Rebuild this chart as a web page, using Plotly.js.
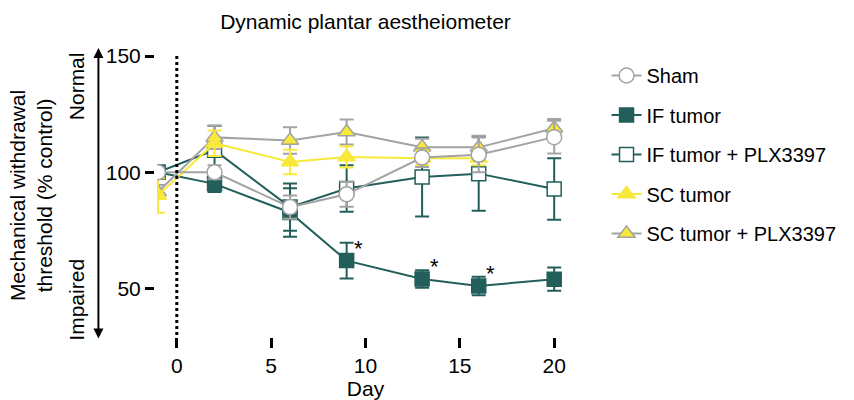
<!DOCTYPE html>
<html>
<head>
<meta charset="utf-8">
<script src="https://cdn.plot.ly/plotly-3.0.1.min.js"></script>
<style>html,body{margin:0;padding:0;background:#fff;}#chart{width:854px;height:400px;}</style>
</head>
<body>
<div id="chart"></div>
<script>
// ---- data ----
const days = [-1, 2, 6, 9, 13, 16, 20];
const daysSC = [-1, 2, 6, 9, 13, 16];
const sham = [100, 100, 85, 90.5, 106.3, 107.5, 115.1];
const shamErr = [0, 3, 5, 5.3, 4, 7.5, 7];
const ifTumor = [100, 95, 82.7, 62, 54.1, 51.1, 54];
const ifTumorErr = [0, 3.5, 10.4, 7.7, 3.8, 4, 5];
const ifPlx = [100, 109.5, 85, 93, 98, 99.4, 92.8];
const ifPlxErr = [0, 10.5, 10.2, 10, 17, 16, 13.2];
const scTumor = [90, 112.5, 104.4, 106.6, 106, 106];
const scTumorErr = [7.4, 5.5, 5.3, 4.6, 3, 3];
const scPlx = [91.5, 115, 113.7, 117.3, 110.8, 110.7, 118.9];
const scPlxErr = [3, 5, 5.7, 5.4, 3.6, 5, 4];
const sigDays = [9, 13, 16];
const seriesNames = ['Sham', 'IF tumor', 'IF tumor + PLX3397', 'SC tumor', 'SC tumor + PLX3397'];
const xTicks = [0, 5, 10, 15, 20];
const yTicks = [50, 100, 150];

const TEAL = '#225f5b', GREY = '#a3a3a3', YEL = '#f7e83a';
const FONT = 'Liberation Sans, Arial, sans-serif';
const FS = 21;

function tr(name, x, y, err, opts, z) {
  return {
    type: 'scatter', mode: 'lines+markers', name: name, x: x, y: y,
    legendgroup: name, zorder: z,
    line: {color: opts.line, width: 2},
    marker: {symbol: opts.symbol, size: opts.size, color: opts.fill, line: {color: opts.edge, width: 1.5}},
    error_y: {type: 'data', array: err, visible: true, color: opts.err, thickness: 2, width: 7}
  };
}

const data = [
  tr(seriesNames[0], days, sham, shamErr, {line: GREY, symbol: 'circle', size: 15, fill: '#ffffff', edge: GREY, err: GREY}, 5),
  tr(seriesNames[1], days, ifTumor, ifTumorErr, {line: TEAL, symbol: 'square', size: 14, fill: TEAL, edge: TEAL, err: TEAL}, 1),
  tr(seriesNames[2], days, ifPlx, ifPlxErr, {line: TEAL, symbol: 'square', size: 14, fill: '#ffffff', edge: TEAL, err: TEAL}, 2),
  tr(seriesNames[3], daysSC, scTumor, scTumorErr, {line: YEL, symbol: 'triangle-up', size: 15, fill: YEL, edge: YEL, err: YEL}, 4),
  tr(seriesNames[4], days, scPlx, scPlxErr, {line: GREY, symbol: 'triangle-up', size: 15, fill: YEL, edge: GREY, err: GREY}, 3)
];

const annotations = sigDays.map(d => ({
  x: d, y: ifTumor[days.indexOf(d)], xref: 'x', yref: 'y', text: '*', showarrow: false,
  xshift: 12, yshift: 12, font: {family: FONT, size: 22, color: '#000'}
}));
annotations.push(
  {xref: 'paper', yref: 'paper', x: -0.193, y: 0.89, xanchor: 'center', yanchor: 'middle', text: 'Normal', textangle: -90, showarrow: false,
   font: {family: FONT, size: FS, color: '#000'}},
  {xref: 'paper', yref: 'paper', x: -0.193, y: 0.125, xanchor: 'center', yanchor: 'middle', text: 'Impaired', textangle: -90, showarrow: false,
   font: {family: FONT, size: FS, color: '#000'}},
  {xref: 'paper', yref: 'paper', x: -0.1405, y: 1.0287, text: '', showarrow: true, ax: 0, ay: 292,
   arrowhead: 2, startarrowhead: 2, arrowside: 'end+start', arrowsize: 1, arrowwidth: 2, arrowcolor: '#000',
   startstandoff: 0, standoff: 0}
);

const layout = {
  width: 854, height: 400,
  margin: {l: 157, r: 277, t: 56, b: 65},
  paper_bgcolor: '#fff', plot_bgcolor: '#fff',
  font: {family: FONT, size: FS, color: '#000'},
  title: {text: 'Dynamic plantar aestheiometer', x: 0.5, xref: 'paper', y: 0.945, yanchor: 'middle',
          font: {family: FONT, size: FS, color: '#000'}},
  xaxis: {range: [-1.05, 21.05], tickvals: xTicks, ticks: 'outside', ticklen: 10, tickwidth: 3, tickcolor: '#000',
          showline: true, linewidth: 3, linecolor: '#000', showgrid: false, zeroline: false,
          tickfont: {family: FONT, size: FS}, title: {text: 'Day', standoff: 7, font: {family: FONT, size: FS}}},
  yaxis: {range: [30, 150], tickvals: yTicks, ticks: 'outside', ticklen: 9, tickwidth: 3, tickcolor: '#000',
          showline: true, linewidth: 3, linecolor: '#000', showgrid: false, zeroline: false,
          tickfont: {family: FONT, size: FS},
          title: {text: 'Mechanical withdrawal<br>threshold (% control)', standoff: 48, font: {family: FONT, size: FS}}},
  shapes: [{type: 'line', xref: 'x', yref: 'y', x0: 0, x1: 0, y0: 30, y1: 150,
            line: {color: '#000', width: 3, dash: 'dot'}}],
  annotations: annotations,
  showlegend: true,
  legend: {x: 1.078, xanchor: 'left', y: 1.0, yanchor: 'top', traceorder: 'grouped', tracegroupgap: 10.5,
           font: {family: FONT, size: 20, color: '#000'}, bgcolor: 'rgba(0,0,0,0)'}
};

Plotly.newPlot('chart', data, layout, {displayModeBar: false, staticPlot: true});
</script>
</body>
</html>
